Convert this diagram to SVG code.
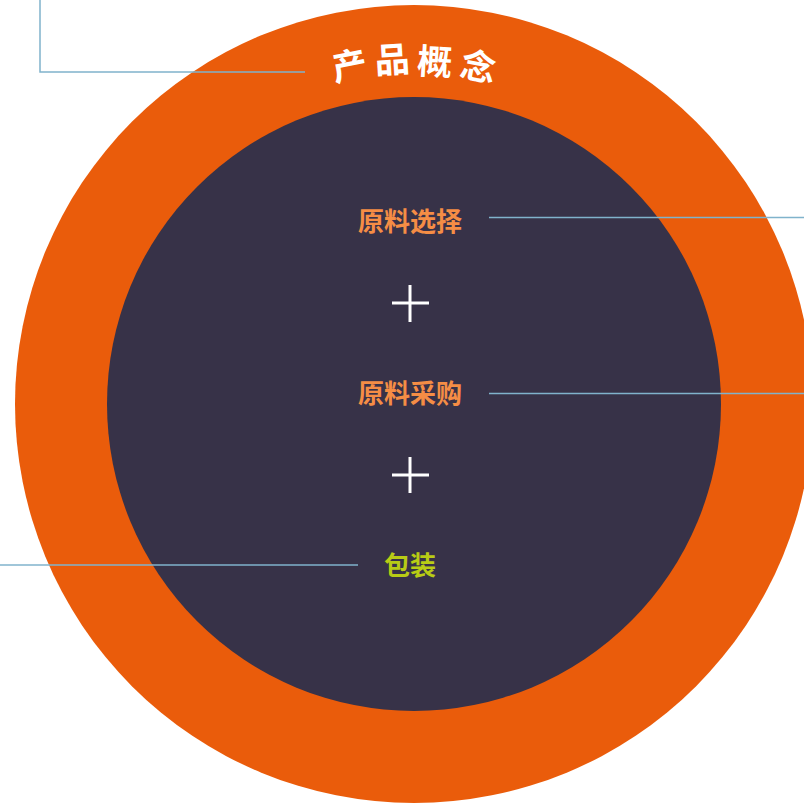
<svg xmlns="http://www.w3.org/2000/svg" width="804" height="805" viewBox="0 0 804 805">
<style>
.lbl{font-family:"Noto Sans CJK SC","Noto Sans",sans-serif;font-weight:700;font-size:26px;text-anchor:middle;dominant-baseline:central}
.title{font-family:"Noto Sans CJK SC","Noto Sans",sans-serif;font-weight:700;font-size:35px;fill:#ffffff;text-anchor:middle;dominant-baseline:central}
.conn{fill:none;stroke:#80b3cc;stroke-width:1.5}
.plus{stroke:#ffffff;stroke-width:3;fill:none}
</style>
<rect width="804" height="805" fill="#ffffff"/>
<g id="outer">
<circle cx="414" cy="404" r="399" fill="#ea5c0b"/>
<text class="title" transform="translate(349,63) rotate(-11)">产</text>
<text class="title" transform="translate(392,57) rotate(-3.5)">品</text>
<text class="title" transform="translate(435,59) rotate(3.5)">概</text>
<text class="title" transform="translate(479,64) rotate(11)">念</text>
</g>
<g id="inner">
<circle cx="414" cy="404" r="307" fill="#373248"/>
</g>
<g id="node-yuanliaoxuanze"><text class="lbl" x="410" y="219" fill="#f58d45">原料选择</text></g>
<g id="plus1"><path class="plus" d="M392 303H429M410 285V322"/></g>
<g id="node-yuanliaocaigou"><text class="lbl" x="410" y="391" fill="#f58d45">原料采购</text></g>
<g id="plus2"><path class="plus" d="M392 475H429M410 457V493"/></g>
<g id="node-baozhuang"><text class="lbl" x="410" y="563" fill="#b8cc15">包装</text></g>
<g id="connectors">
<path class="conn" d="M40 0V72H305"/>
<path class="conn" d="M489 217.5H804"/>
<path class="conn" d="M489 393.5H804"/>
<path class="conn" d="M0 565H358"/>
</g>
</svg>
